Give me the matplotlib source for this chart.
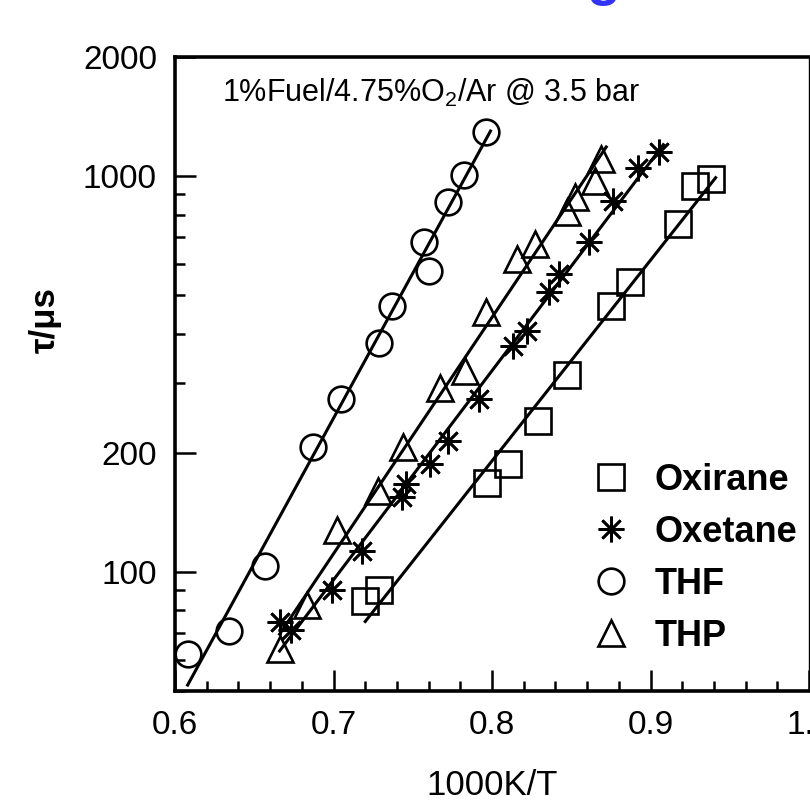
import matplotlib.pyplot as plt
from matplotlib.ticker import FixedLocator, NullFormatter
import numpy as np

plt.rcParams['font.family'] = ['Liberation Sans', 'DejaVu Sans']
plt.rcParams['mathtext.fontset'] = 'custom'
plt.rcParams['mathtext.rm'] = 'Liberation Sans'

# ignition delay times (x = 1000/T in 1/K, tau in microseconds)
oxirane_x = [0.720, 0.729, 0.797, 0.810, 0.829, 0.847, 0.875, 0.887, 0.917, 0.928, 0.938]
oxirane_tau = [84.5, 90.1, 168, 187.5, 240, 314, 470, 540, 756, 943, 983]

oxetane_x = [0.666, 0.673, 0.699, 0.718, 0.743, 0.746, 0.761, 0.772, 0.792, 0.813,
             0.822, 0.836, 0.842, 0.861, 0.876, 0.892, 0.905]
oxetane_tau = [74.8, 71.4, 90.1, 113, 155, 167, 187.5, 214, 273, 372,
               406, 509, 566, 681, 865, 1048, 1150]

thf_x = [0.608, 0.634, 0.657, 0.687, 0.705, 0.729, 0.737, 0.760, 0.757, 0.772, 0.782, 0.796]
thf_tau = [62.1, 71.0, 103.5, 207, 273, 378, 470, 575, 681, 860, 1006, 1292]

thp_x = [0.666, 0.683, 0.702, 0.728, 0.744, 0.767, 0.783, 0.796, 0.816, 0.827,
         0.847, 0.852, 0.865, 0.869]
thp_tau = [64.0, 82.6, 127.6, 160, 207, 292, 322, 454, 617, 674,
           811, 885, 971, 1104]

names = ['Oxirane', 'Oxetane', 'THF', 'THP']
xs = [oxirane_x, oxetane_x, thf_x, thp_x]
taus = [oxirane_tau, oxetane_tau, thf_tau, thp_tau]
markers = ['s', (8, 2, 0), 'o', '^']

fig = plt.figure(figsize=(8.1, 8.01), dpi=100)
ax = fig.add_axes([0.216, 0.1373, 0.783, 0.7915])

for name, x, tau, m in zip(names, xs, taus, markers):
    x = np.array(x)
    # Arrhenius fit: straight line in log(tau) vs 1000/T
    k, b = np.polyfit(x, np.log10(tau), 1)
    xf = np.linspace(x.min(), x.max() + 0.003, 50)
    ax.plot(xf, 10 ** (k * xf + b), color='black', lw=2.2, zorder=2)
    ax.plot(x, tau, linestyle='none', marker=m, markersize=18.5,
            markerfacecolor='none', markeredgecolor='black', markeredgewidth=1.9,
            label=name, zorder=3)

ax.set_yscale('log')
ax.set_xlim(0.6, 1.0)
ax.set_ylim(50, 2000)

ax.xaxis.set_major_locator(FixedLocator([0.6, 0.7, 0.8, 0.9, 1.0]))
ax.xaxis.set_minor_locator(FixedLocator(np.arange(0.62, 1.0, 0.02)))
ax.set_xticklabels(['0.6', '0.7', '0.8', '0.9', '1.0'])
ax.yaxis.set_major_locator(FixedLocator([100, 200, 1000, 2000]))
ax.yaxis.set_minor_locator(FixedLocator([50, 60, 70, 80, 90, 300, 400, 500, 600, 700, 800, 900]))
ax.set_yticklabels(['100', '200', '1000', '2000'])
ax.yaxis.set_minor_formatter(NullFormatter())

ax.tick_params(which='both', direction='in', labelsize=24, width=1.8)
ax.tick_params(axis='x', which='major', length=15, pad=14)
ax.tick_params(axis='y', which='major', length=15, pad=13)
ax.tick_params(which='minor', length=7)

for side in ['left', 'bottom', 'top']:
    ax.spines[side].set_linewidth(2.6)
ax.spines['right'].set_linewidth(1.0)

ax.set_xlabel('1000K/T', fontsize=25, labelpad=20)
ax.set_ylabel('τ/μs', fontsize=25, fontweight='bold')
ax.yaxis.set_label_coords(-0.178, 0.585)

ax.text(0.074, 0.929, r'1%Fuel/4.75%O$_2$/Ar @ 3.5 bar', transform=ax.transAxes,
        fontsize=22, va='baseline', ha='left')

ax.legend(loc='lower left', bbox_to_anchor=(0.63, 0.03), frameon=False,
          prop={'weight': 'bold', 'size': 26}, handlelength=1.0,
          handletextpad=0.72, labelspacing=0.47, borderpad=0)

# blue title cut off at the top of the picture
fig.text(0.745, 1.008, 'g', color='#3333f5', fontsize=40, fontweight='bold',
         ha='center', va='baseline')

fig.savefig('out.png', dpi=100)
